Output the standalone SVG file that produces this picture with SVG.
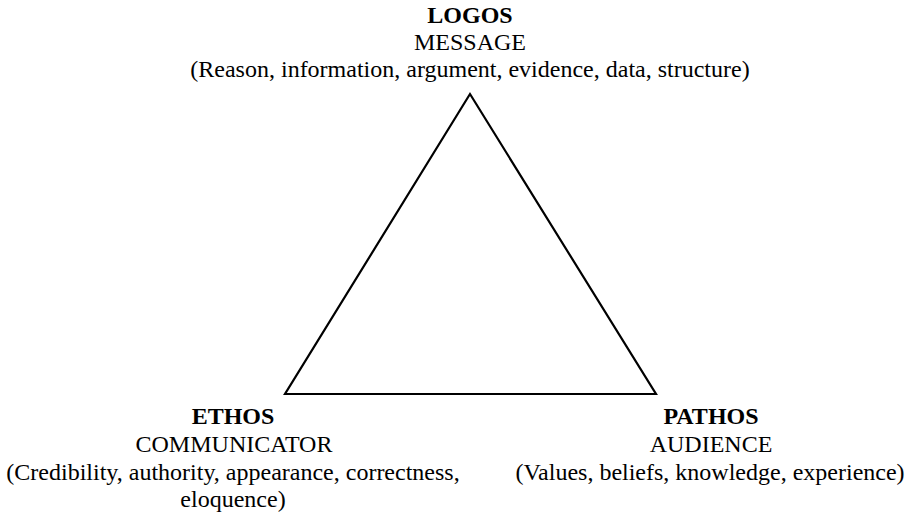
<svg xmlns="http://www.w3.org/2000/svg" width="914" height="518" viewBox="0 0 914 518">
  <style>
    text { font-family: "Liberation Serif", "Times New Roman", serif; font-size: 24px; fill: #000; text-anchor: middle; }
    .title { font-weight: bold; }
    .edge { fill: none; stroke: #000; stroke-width: 2.2; stroke-linejoin: miter; }
  </style>
  <rect width="914" height="518" fill="#fff"/>
  <g id="connectors">
    <polygon class="edge" points="470,94 285,394 656,394"/>
  </g>
  <g id="logos">
    <text class="title" x="470" y="23">LOGOS</text>
    <text x="470" y="50">MESSAGE</text>
    <text x="470" y="77">(Reason, information, argument, evidence, data, structure)</text>
  </g>
  <g id="ethos">
    <text class="title" x="233" y="424">ETHOS</text>
    <text x="234" y="452">COMMUNICATOR</text>
    <text x="233" y="480">(Credibility, authority, appearance, correctness,</text>
    <text x="233" y="507">eloquence)</text>
  </g>
  <g id="pathos">
    <text class="title" x="711" y="424">PATHOS</text>
    <text x="711" y="452">AUDIENCE</text>
    <text x="710" y="480">(Values, beliefs, knowledge, experience)</text>
  </g>
</svg>
